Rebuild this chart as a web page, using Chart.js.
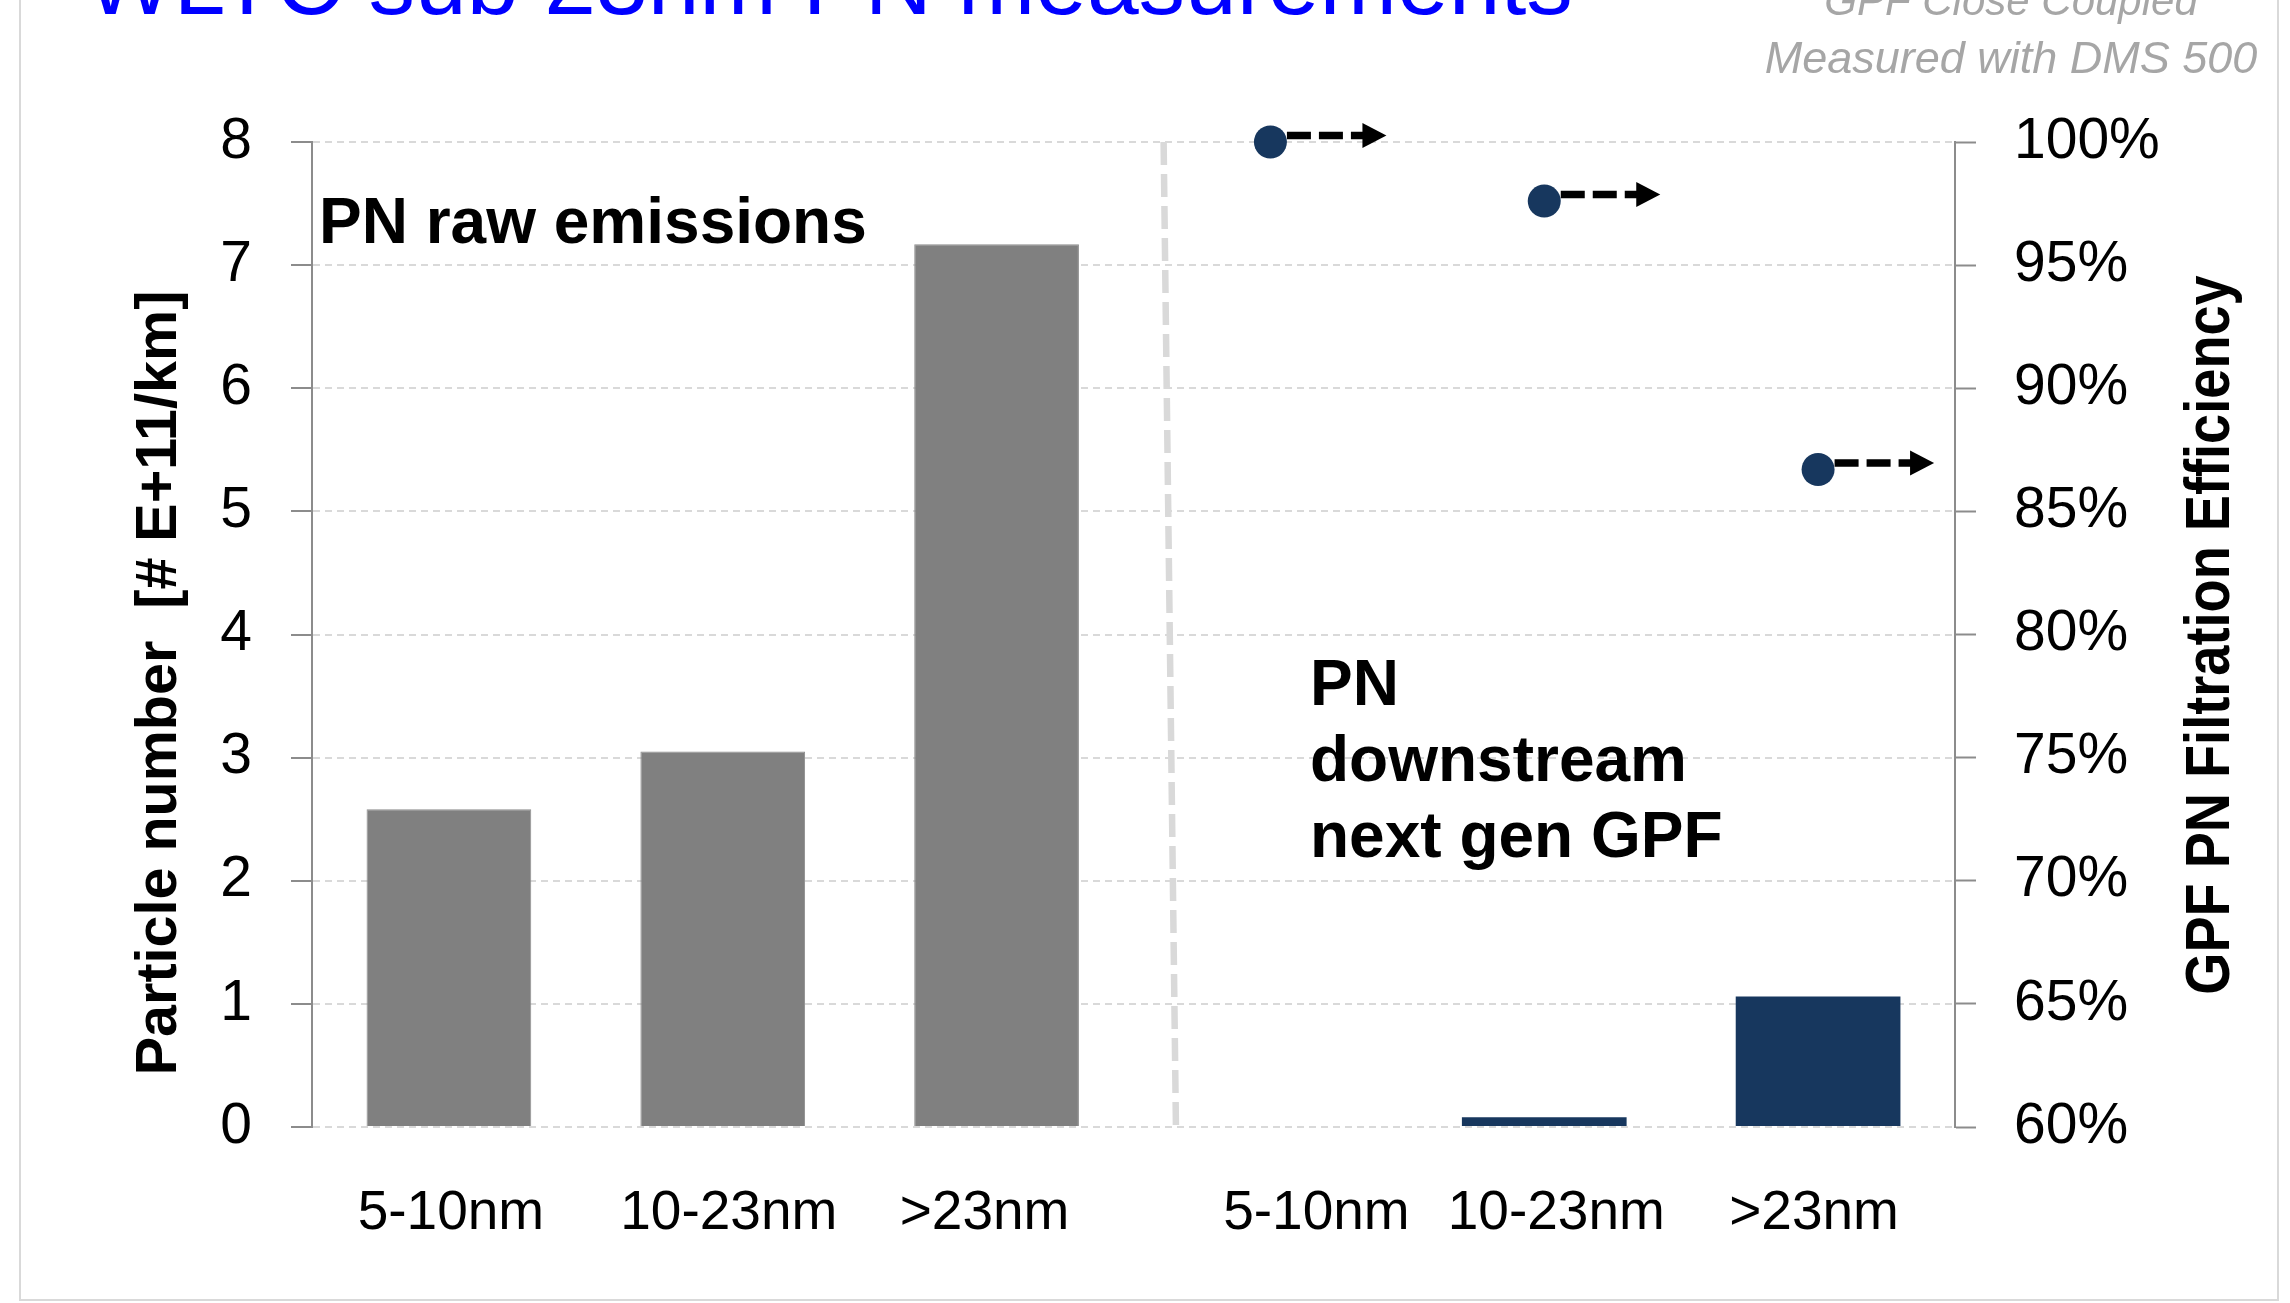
<!DOCTYPE html>
<html><head><meta charset="utf-8">
<script src="https://cdn.jsdelivr.net/npm/chart.js@4.4.1/dist/chart.umd.min.js"></script>
<style>html,body{margin:0;padding:0;background:#fff;}canvas{display:block;}</style>
</head><body>
<canvas id="c" width="2290" height="1303"></canvas>
<script>
// ---- data ----
const categories = ['5-10nm', '10-23nm', '>23nm', '5-10nm', '10-23nm', '>23nm'];
const rawEmissions = [2.58, 3.05, 7.17];        // PN raw emissions [# E+11/km]
const downstreamGPF = [0, 0.08, 1.06];          // PN downstream next gen GPF [# E+11/km]
const filtrationEff = [100, 97.6, 86.7];        // GPF PN filtration efficiency [%]
const leftTicks = [0, 1, 2, 3, 4, 5, 6, 7, 8];
const rightTicks = [60, 65, 70, 75, 80, 85, 90, 95, 100];
const titleText = 'WLTC sub 23nm PN measurements';
const noteLines = ['GPF Close Coupled', 'Measured with DMS 500'];
const leftAxisTitle = 'Particle number  [# E+11/km]';
const rightAxisTitle = 'GPF PN Filtration Efficiency';
const leftPanelLabel = ['PN raw emissions'];
const rightPanelLabel = ['PN', 'downstream', 'next gen GPF'];

// style: small horizontal nudges of the category labels (px), as in the original layout
const labelNudge = [2, 6, -12, 46, 12, -4];

const FONT = '"Liberation Sans", Arial, Helvetica, sans-serif';
const W = 2290, H = 1303;
const pad3 = [null, null, null];

const decor = {
  id: 'decor',
  beforeDraw(chart) {
    const x = chart.scales.x;
    if (!x || !x.getLabelItems) return;
    const items = x.getLabelItems();
    items.forEach((it, i) => {
      if (it._nudged || !it.options || !it.options.translation) return;
      it.options.translation[0] += labelNudge[i] || 0;
      it._nudged = true;
    });
  },
  beforeDatasetsDraw(chart) {
    const {ctx, chartArea: a, scales: {x}} = chart;
    ctx.save();
    ctx.strokeStyle = '#D9D9D9';
    ctx.lineWidth = 6.5;
    ctx.setLineDash([23, 9]);
    ctx.beginPath();
    ctx.moveTo(x.getPixelForValue(2.61), a.top);
    ctx.lineTo(x.getPixelForValue(2.655), a.bottom);
    ctx.stroke();
    ctx.restore();
  },
  afterDatasetsDraw(chart) {
    const {ctx} = chart;
    const meta = chart.getDatasetMeta(2);
    ctx.save();
    meta.data.forEach(pt => {
      if (pt.skip) return;
      const r = pt.options.radius;
      const y = pt.y - 6.5;
      const x0 = pt.x + r;
      const tip = pt.x + 116;
      const head = 24;
      ctx.strokeStyle = '#000';
      ctx.lineWidth = 7.5;
      ctx.setLineDash([24, 8]);
      ctx.beginPath();
      ctx.moveTo(x0, y);
      ctx.lineTo(tip - head + 2, y);
      ctx.stroke();
      ctx.setLineDash([]);
      ctx.fillStyle = '#000';
      ctx.beginPath();
      ctx.moveTo(tip - head, y - 12.5);
      ctx.lineTo(tip, y);
      ctx.lineTo(tip - head, y + 12.5);
      ctx.closePath();
      ctx.fill();
    });
    ctx.restore();
  },
  afterDraw(chart) {
    const {ctx} = chart;
    ctx.save();
    // frame
    ctx.strokeStyle = '#D9D9D9';
    ctx.lineWidth = 2;
    ctx.beginPath();
    ctx.moveTo(20, 0); ctx.lineTo(20, 1300); ctx.lineTo(2278, 1300); ctx.lineTo(2278, 0);
    ctx.stroke();
    // title (cut at top)
    ctx.fillStyle = '#0000FF';
    ctx.textBaseline = 'alphabetic';
    ctx.textAlign = 'left';
    ctx.font = '93px ' + FONT;
    ctx.fillText(titleText, 86, 14);
    // note
    ctx.fillStyle = '#A6A6A6';
    ctx.textAlign = 'center';
    ctx.font = 'italic 42px ' + FONT;
    ctx.fillText(noteLines[0], 2011, 15);
    ctx.font = 'italic 45px ' + FONT;
    ctx.fillText(noteLines[1], 2011, 73);
    // panel labels
    ctx.fillStyle = '#000';
    ctx.textAlign = 'left';
    ctx.font = 'bold 64px ' + FONT;
    ctx.fillText(leftPanelLabel[0], 319, 243);
    const bl = [705, 781, 857];
    rightPanelLabel.forEach((t, i) => ctx.fillText(t, 1310, bl[i]));
    // axis titles
    ctx.textAlign = 'center';
    ctx.save();
    ctx.translate(176, 683);
    ctx.rotate(-Math.PI / 2);
    ctx.font = 'bold 57.5px ' + FONT;
    ctx.fillText(leftAxisTitle, 0, 0);
    ctx.restore();
    ctx.save();
    ctx.translate(2229, 635);
    ctx.rotate(-Math.PI / 2);
    ctx.scale(0.86, 1);
    ctx.font = 'bold 63px ' + FONT;
    ctx.fillText(rightAxisTitle, 0, 0);
    ctx.restore();
    ctx.restore();
  }
};

Chart.defaults.font.family = FONT;
Chart.defaults.color = '#000';

new Chart(document.getElementById('c'), {
  type: 'bar',
  data: {
    labels: categories,
    datasets: [
      {
        label: 'PN raw emissions',
        data: rawEmissions.concat(pad3),
        backgroundColor: '#808080',
        borderColor: '#8C8C8C',
        borderWidth: 1,
        yAxisID: 'y',
        grouped: false,
        barPercentage: 0.6015,
        categoryPercentage: 1,
        order: 2
      },
      {
        label: 'PN downstream next gen GPF',
        data: pad3.concat(downstreamGPF),
        backgroundColor: '#17375E',
        borderWidth: 0,
        yAxisID: 'y',
        grouped: false,
        barPercentage: 0.6015,
        categoryPercentage: 1,
        order: 2
      },
      {
        type: 'line',
        label: 'GPF PN Filtration Efficiency',
        data: pad3.concat(filtrationEff),
        yAxisID: 'y2',
        showLine: false,
        pointRadius: 16.5,
        pointHoverRadius: 16.5,
        pointBackgroundColor: '#17375E',
        pointBorderColor: '#17375E',
        pointBorderWidth: 0,
        clip: false,
        order: 1
      }
    ]
  },
  options: {
    responsive: false,
    devicePixelRatio: 1,
    animation: false,
    events: [],
    layout: {padding: {left: 0, right: 0, top: 142, bottom: 0}},
    plugins: {legend: {display: false}, tooltip: {enabled: false}, title: {display: false}},
    scales: {
      x: {
        type: 'category',
        offset: true,
        grid: {display: false, drawTicks: false},
        border: {display: false},
        ticks: {font: {size: 55}, padding: 54, maxRotation: 0, autoSkip: false},
        afterFit: s => { s.height = H - 1127; }
      },
      y: {
        position: 'left',
        min: 0, max: 8,
        afterBuildTicks: s => { s.ticks = leftTicks.map(v => ({value: v})); },
        ticks: {font: {size: 57}, padding: 39},
        grid: {color: '#D9D9D9', lineWidth: 2, drawTicks: true, tickLength: 21,
               tickColor: '#8C8C8C', tickWidth: 2, tickBorderDash: []},
        border: {display: true, color: '#8C8C8C', width: 2, dash: [7, 5]},
        afterFit: s => { s.width = 312; }
      },
      y2: {
        position: 'right',
        min: 60, max: 100,
        afterBuildTicks: s => { s.ticks = rightTicks.map(v => ({value: v})); },
        ticks: {font: {size: 57}, padding: 38, callback: v => v + '%'},
        grid: {drawOnChartArea: false, drawTicks: true, tickLength: 21,
               tickColor: '#8C8C8C', tickWidth: 2},
        border: {display: true, color: '#8C8C8C', width: 2},
        afterFit: s => { s.width = W - 1955; }
      }
    }
  },
  plugins: [decor]
});
</script>
</body></html>
